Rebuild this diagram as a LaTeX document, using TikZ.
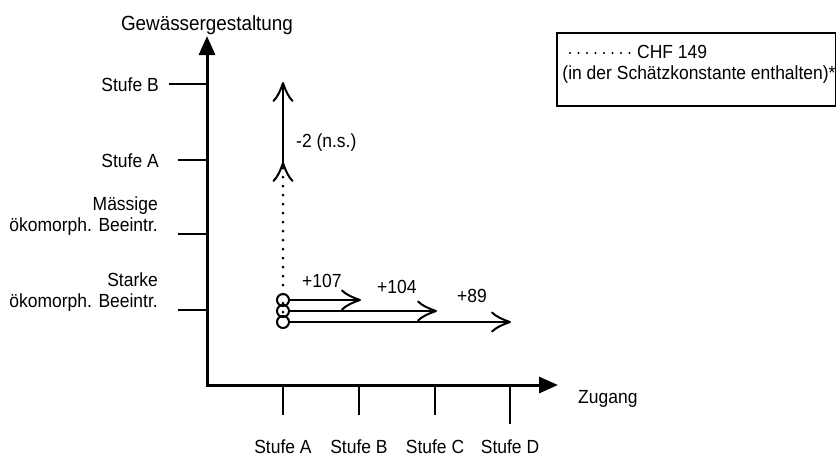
\documentclass[tikz,border=0pt]{standalone}
\usepackage{fontspec}
\setmainfont[FakeStretch=0.92]{Liberation Sans}
\usetikzlibrary{arrows.meta}
\begin{document}
\begin{tikzpicture}[x=1pt,y=-1pt,
  lbl/.style={inner sep=0pt,font=\fontsize{19}{21}\selectfont},
  axisline/.style={line width=3pt,line join=miter,
    {Triangle[length=19pt,width=16pt]}-{Triangle[length=19pt,width=16pt]}},
  tick/.style={line width=2pt},
  effect/.style={line width=2pt},
  barb/.pic={\draw[line width=2pt,line cap=round,line join=round]
    (-18,-9.5) .. controls (-14,-5.5) and (-7,-2.3) .. (0,0)
    .. controls (-7,2.3) and (-14,5.5) .. (-18,9.5);},
  startmark/.style={circle,draw,line width=2pt,minimum size=12pt,inner sep=0pt},
  dotline/.style={line width=3pt,line cap=round,dash pattern=on 0pt off 9pt}]
\useasboundingbox (0,0) rectangle (837,459);

% axes
\coordinate (ytip) at (207,36);
\coordinate (origin) at (207,385);
\coordinate (xtip) at (558,385);
\draw[axisline] (ytip) -- (origin) -- (xtip);
\node[lbl,anchor=base,font=\fontsize{20.5}{22}\selectfont] (ytitle) at (207,30) {Gewässergestaltung};
\node[lbl,anchor=base west] (xtitle) at (578,403) {Zugang};

% ticks on the vertical axis
\coordinate (yB) at (207,84);
\coordinate (yA) at (207,160);
\coordinate (yM) at (207,234);
\coordinate (yS) at (207,310);
\draw[tick] (169,84) -- (yB);
\draw[tick] (178,160) -- (yA);
\draw[tick] (178,234) -- (yM);
\draw[tick] (178,310) -- (yS);
\node[lbl,anchor=base east] (lyB) at (159,91) {Stufe B};
\node[lbl,anchor=base east] (lyA) at (159,167) {Stufe A};
\node[lbl,anchor=base east,align=right] (lyM) at (158,231) {Mässige\\ökomorph. Beeintr.};
\node[lbl,anchor=base east,align=right] (lyS) at (158,307) {Starke\\ökomorph. Beeintr.};

% ticks on the horizontal axis
\coordinate (xA) at (283,385);
\coordinate (xB) at (359,385);
\coordinate (xC) at (435,385);
\coordinate (xD) at (510,385);
\draw[tick] (xA) -- (283,415);
\draw[tick] (xB) -- (359,415);
\draw[tick] (xC) -- (435,415);
\draw[tick] (xD) -- (510,424);
\node[lbl,anchor=base] (lxA) at (283,453) {Stufe A};
\node[lbl,anchor=base] (lxB) at (359,453) {Stufe B};
\node[lbl,anchor=base] (lxC) at (435,453) {Stufe C};
\node[lbl,anchor=base] (lxD) at (510,453) {Stufe D};

% reference point and its dotted offset
\node[startmark] (o3) at (283,322) {};
\node[startmark] (o2) at (283,311) {};
\node[startmark] (o1) at (283,300) {};
\coordinate (vlo) at (283,163);
\coordinate (vhi) at (283,83);
\draw[dotline] (283,312) -- (283,168);

% effects
\draw[effect] (vlo) -- (vhi);
\pic[rotate=90] at (vhi) {barb};
\pic[rotate=90] at (vlo) {barb};
\node[lbl,anchor=base west] (eV) at (296,147) {-2 (n.s.)};

\coordinate (e1) at (360,300);
\coordinate (e2) at (436,311);
\coordinate (e3) at (510,322);
\draw[effect] (o1.east) -- (e1);
\draw[effect] (o2.east) -- (e2);
\draw[effect] (o3.east) -- (e3);
\pic at (e1) {barb};
\pic at (e2) {barb};
\pic at (e3) {barb};
\node[lbl,anchor=base west] (t1) at (302,287) {+107};
\node[lbl,anchor=base west] (t2) at (377,293) {+104};
\node[lbl,anchor=base west] (t3) at (457,302) {+89};

% legend
\draw[line width=1.5pt] (557,33) rectangle (835.5,106);
\coordinate (ld1) at (570,53);
\coordinate (ld2) at (630,53);
\draw[line width=2.2pt,line cap=round,dash pattern=on 0pt off 8.5pt] (ld1) -- (ld2);
\node[lbl,anchor=base west] (leg1) at (637,58) {CHF 149};
\node[lbl,anchor=base] (leg2) at (699,79) {(in der Schätzkonstante enthalten)*};
\end{tikzpicture}
\end{document}
